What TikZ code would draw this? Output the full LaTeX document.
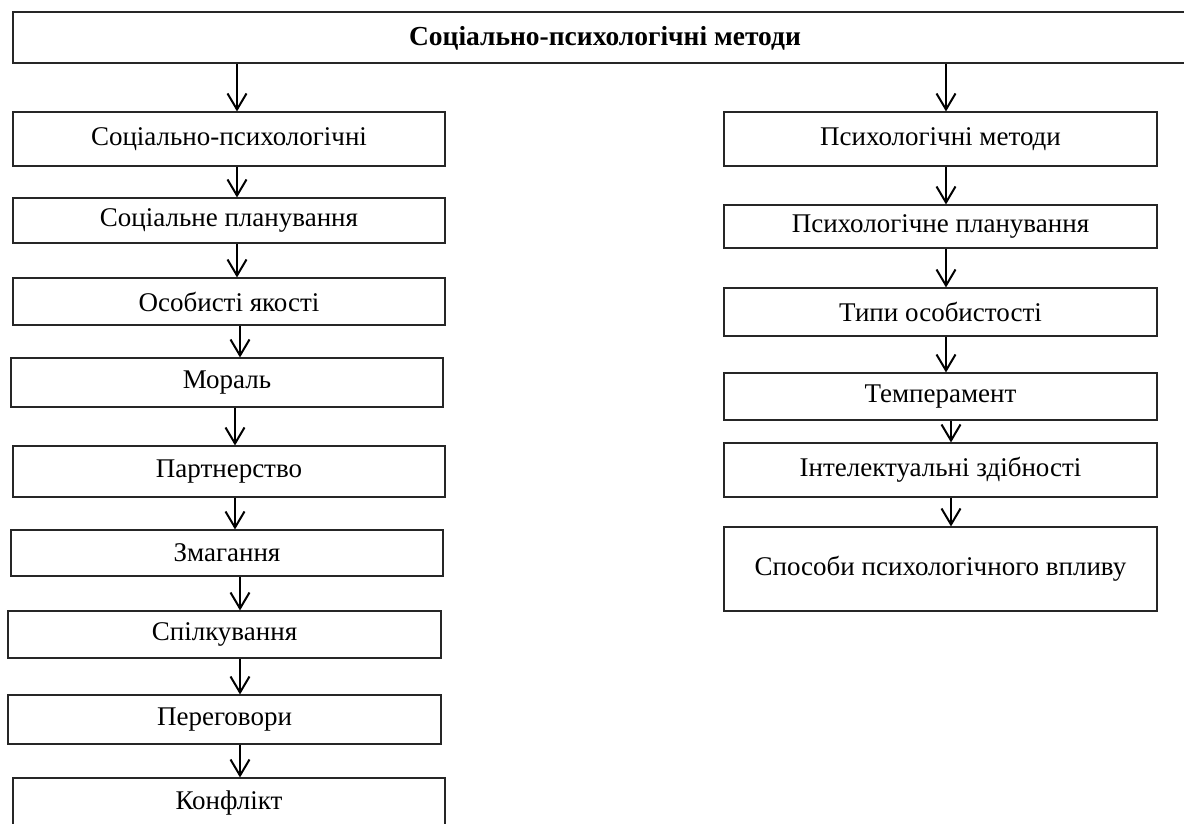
\documentclass[tikz,border=0pt]{standalone}
\usepackage{fontspec}
\setmainfont{Liberation Serif}
\usetikzlibrary{arrows.meta}
\begin{document}
\begin{tikzpicture}[x=1pt,y=-1pt,
  box/.style={draw=black!85, line width=1.1pt, rectangle, inner sep=0pt, font=\fontsize{27}{32}\selectfont},
  arr/.style={draw=black, line width=2pt, -{Straight Barb[length=16pt,width=19pt,line width=2pt]}}]
\useasboundingbox (0,0) rectangle (1184,823);
\clip (0,0) rectangle (1184,823);
\node[box, minimum width=1177pt, minimum height=51pt] (top) at (601.5,37.5) {};
\node[font=\fontsize{27.5}{32}\selectfont\bfseries] (title) at (605,38) {Соціально-психологічні методи};
% left column
\node[box, minimum width=432pt, minimum height=54pt] (L1) at (229,139) {Соціально-психологічні};
\node[box, minimum width=432pt, minimum height=45pt] (L2) at (229,220.5) {Соціальне планування};
\node[box, minimum width=432pt, minimum height=47pt] (L3) at (229,301.5) {Особисті якості};
\node[box, minimum width=432pt, minimum height=49pt] (L4) at (227,382.5) {Мораль};
\node[box, minimum width=432pt, minimum height=51pt] (L5) at (229,471.5) {Партнерство};
\node[box, minimum width=432pt, minimum height=46pt] (L6) at (227,553) {Змагання};
\node[box, minimum width=433pt, minimum height=47pt] (L7) at (224.5,634.5) {Спілкування};
\node[box, minimum width=433pt, minimum height=49pt] (L8) at (224.5,719.5) {Переговори};
\node[box, minimum width=432pt, minimum height=50pt] (L9) at (229,803) {Конфлікт};
% right column
\node[box, minimum width=433pt, minimum height=54pt] (R1) at (940.5,139) {Психологічні методи};
\node[box, minimum width=433pt, minimum height=43pt] (R2) at (940.5,226.5) {Психологічне планування};
\node[box, minimum width=433pt, minimum height=48pt] (R3) at (940.5,312) {Типи особистості};
\node[box, minimum width=433pt, minimum height=47pt] (R4) at (940.5,396.5) {Темперамент};
\node[box, minimum width=433pt, minimum height=54pt] (R5) at (940.5,470) {Інтелектуальні здібності};
\node[box, minimum width=433pt, minimum height=84pt] (R6) at (940.5,569) {Способи психологічного впливу};
% arrow columns
\coordinate (xa) at (237,0);
\coordinate (xb) at (240,0);
\coordinate (xc) at (235,0);
\coordinate (xr) at (946,0);
\coordinate (xs) at (951,0);
\draw[arr] (top.south -| xa) -- (L1.north -| xa);
\draw[arr] (L1.south -| xa) -- (L2.north -| xa);
\draw[arr] (L2.south -| xa) -- (L3.north -| xa);
\draw[arr] (L3.south -| xb) -- (L4.north -| xb);
\draw[arr] (L4.south -| xc) -- (L5.north -| xc);
\draw[arr] (L5.south -| xc) -- (L6.north -| xc);
\draw[arr] (L6.south -| xb) -- (L7.north -| xb);
\draw[arr] (L7.south -| xb) -- (L8.north -| xb);
\draw[arr] (L8.south -| xb) -- (L9.north -| xb);
\draw[arr] (top.south -| xr) -- (R1.north -| xr);
\draw[arr] (R1.south -| xr) -- (R2.north -| xr);
\draw[arr] (R2.south -| xr) -- (R3.north -| xr);
\draw[arr] (R3.south -| xr) -- (R4.north -| xr);
\draw[arr] (R4.south -| xs) -- (R5.north -| xs);
\draw[arr] (R5.south -| xs) -- (R6.north -| xs);
\end{tikzpicture}
\end{document}
